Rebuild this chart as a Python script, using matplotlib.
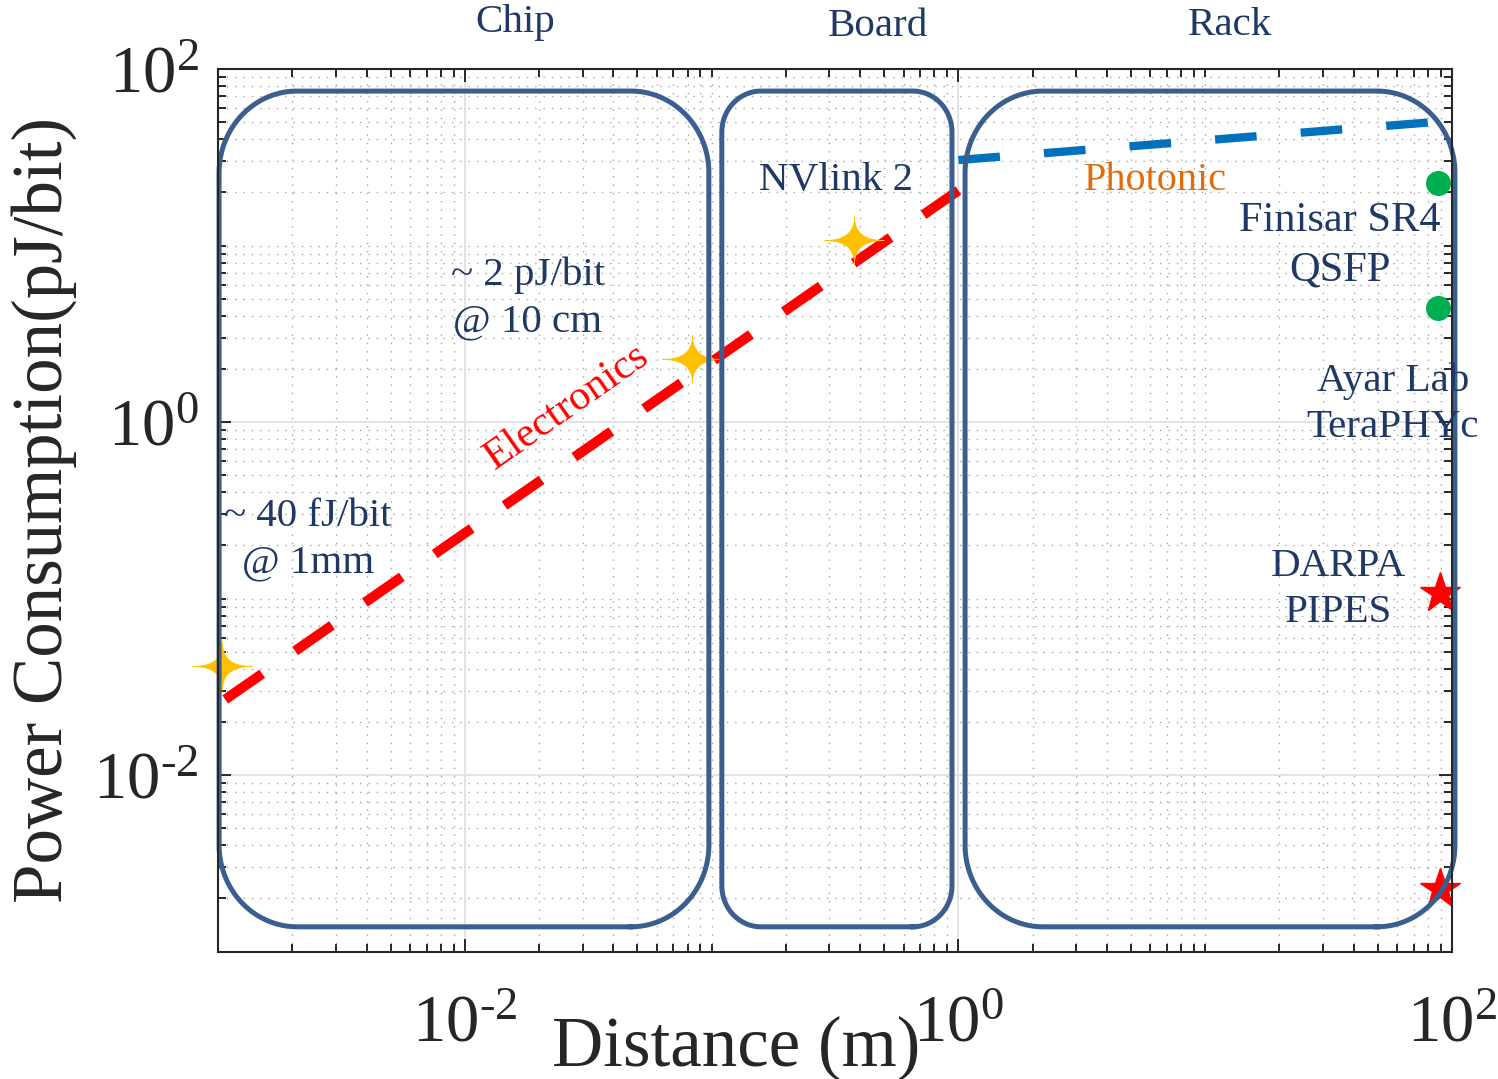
import numpy as np
import matplotlib
matplotlib.use('Agg')
import matplotlib.pyplot as plt
from matplotlib.ticker import FixedLocator, LogLocator, NullFormatter

plt.rcParams['font.family'] = ['Liberation Serif', 'DejaVu Serif']
plt.rcParams['mathtext.fontset'] = 'custom'
plt.rcParams['mathtext.rm'] = 'Liberation Serif'
plt.rcParams['mathtext.it'] = 'Liberation Serif:italic'
plt.rcParams['mathtext.bf'] = 'Liberation Serif:bold'

# ---------------- data ----------------
elec_dist = [1.07e-3, 1.0]
elec_power = [0.0268, 20.5]
phot_dist = [1.0, 100.0]
phot_power = [30.5, 51.0]

bench_dist = [1.04e-3, 0.0834, 0.378]       # ~40 fJ/bit @1mm, ~2 pJ/bit @10cm, NVlink 2
bench_power = [0.0414, 2.27, 10.7]

module_dist = [88.0, 88.0]                  # Finisar SR4 QSFP, Ayar Lab TeraPHYc
module_power = [22.7, 4.4]

darpa_dist = [89.0, 89.0]                   # DARPA PIPES
darpa_power = [0.107, 0.00226]

region_names = ['Chip', 'Board', 'Rack']
region_start = [1.01e-3, 0.110, 1.064]
region_end = [0.0975, 0.942, 102.8]
region_bottom = 1.38e-3
region_top = 75.0

xtick_vals = [1e-2, 1e0, 1e2]
xtick_labels = [r'$10^{\text{-}2}$', '$10^{0}$', '$10^{2}$']
ytick_vals = [1e-2, 1e0, 1e2]
ytick_labels = [r'$10^{\text{-}2}$', '$10^{0}$', '$10^{2}$']

# ---------------- figure ----------------
W, H = 1498, 1079
fig = plt.figure(figsize=(W / 100, H / 100), dpi=100)
ax = fig.add_axes([218 / W, 1 - 951.5 / H, (1452 - 218) / W, (951.5 - 69) / H])
ax.set_xscale('log')
ax.set_yscale('log')
ax.set_xlim(1e-3, 1e2)
ax.set_ylim(1e-3, 1e2)

ink = '#262626'
ax.xaxis.set_major_locator(FixedLocator(xtick_vals))
ax.yaxis.set_major_locator(FixedLocator(ytick_vals))
ax.set_xticklabels(xtick_labels)
ax.set_yticklabels(ytick_labels)
ax.xaxis.set_minor_locator(LogLocator(base=10, subs=np.arange(1, 10), numticks=100))
ax.yaxis.set_minor_locator(LogLocator(base=10, subs=np.arange(1, 10), numticks=100))
ax.xaxis.set_minor_formatter(NullFormatter())
ax.yaxis.set_minor_formatter(NullFormatter())
ax.tick_params(which='both', direction='in', top=True, right=True, color=ink,
               width=1.4, labelcolor=ink, labelsize=48)
ax.tick_params(which='major', length=9.5)
ax.tick_params(which='minor', length=5.5)
ax.tick_params(axis='x', which='major', pad=31)
ax.tick_params(axis='y', which='major', pad=14)
for s in ax.spines.values():
    s.set_linewidth(1.5)
    s.set_color(ink)
    s.set_zorder(6)

ax.grid(True, which='major', color='#e2e2e2', lw=1.3, ls='-', zorder=0)
ax.grid(True, which='minor', color='#a6a6a6', lw=1.0, ls=(0, (1, 5)), zorder=0)
ax.set_axisbelow(True)

# lines
l1, = ax.plot(elec_dist, elec_power, color='#FF0000', lw=7.2,
              dash_capstyle='butt', zorder=3)
l1.set_dashes([4.5, 4.0])
l2, = ax.plot(phot_dist, phot_power, color='#0072BD', lw=6, dash_capstyle='butt', zorder=3)
l2.set_dashes([5.0, 5.3])

# 4-pointed sparkle marker with concave sides (superellipse, exponent < 1)
ang = np.linspace(0, 2 * np.pi, 400, endpoint=False)
pexp = 0.5
sx = np.sign(np.cos(ang)) * np.abs(np.cos(ang)) ** (2 / pexp)
sy = np.sign(np.sin(ang)) * np.abs(np.sin(ang)) ** (2 / pexp)
sparkle = np.column_stack([sx, 0.8 * sy])
ax.plot(bench_dist, bench_power, ls='none', marker=sparkle, ms=43,
        color='#FFC000', mec='#FFC000', mew=0.5, zorder=4, clip_on=False)
ax.plot(module_dist, module_power, ls='none', marker='o', ms=17,
        color='#00B050', mec='#00B050', zorder=4)
ax.plot(darpa_dist, darpa_power, ls='none', marker='*', ms=30,
        color='#FF0000', mec='#FF0000', zorder=4, clip_on=False)

# rounded region boxes (corner radius relative to the shorter side)
box_color = '#3A5F8F'
curvature = 0.34


def rounded_box(x0, x1, y0, y1):
    p0 = ax.transData.transform((x0, y0))
    p1 = ax.transData.transform((x1, y1))
    w = p1[0] - p0[0]
    h = p1[1] - p0[1]
    r = min(curvature * min(w, h) / 2, 78)
    rx, ry = r, r * 1.05
    t = np.linspace(0, np.pi / 2, 40)
    pts = []
    centers = [(p1[0] - rx, p0[1] + ry, -np.pi / 2),
               (p1[0] - rx, p1[1] - ry, 0.0),
               (p0[0] + rx, p1[1] - ry, np.pi / 2),
               (p0[0] + rx, p0[1] + ry, np.pi)]
    for cx, cy, a0 in centers:
        a = a0 + t
        pts.append(np.column_stack([cx + rx * np.cos(a), cy + ry * np.sin(a)]))
    pts = np.vstack(pts + [pts[0][:1]])
    pts_ax = ax.transAxes.inverted().transform(pts)
    ax.plot(pts_ax[:, 0], pts_ax[:, 1], transform=ax.transAxes, color=box_color,
            lw=3.6, clip_on=False, zorder=5, solid_joinstyle='round')


for a, b in zip(region_start, region_end):
    rounded_box(a, b, region_bottom, region_top)

# texts
txt = '#1F3864'
fs = 29.5
ls_ = 1.32
ax.text(0.016, 184, 'Chip', color=txt, fontsize=fs, ha='center', va='center')
ax.text(0.472, 173, 'Board', color=txt, fontsize=fs, ha='center', va='center')
ax.text(12.6, 177, 'Rack', color=txt, fontsize=fs, ha='center', va='center')
ax.text(0.319, 23.2, 'NVlink 2', color=txt, fontsize=fs, ha='center', va='center', zorder=7)
ax.text(0.018, 5.0, '~ 2 pJ/bit\n@ 10 cm', color=txt, fontsize=fs, ha='center',
        va='center', linespacing=ls_, zorder=7)
ax.text(2.32e-3, 0.215, '~ 40 fJ/bit\n@ 1mm', color=txt, fontsize=fs, ha='center',
        va='center', linespacing=ls_, zorder=7)
ax.text(0.026, 1.22, 'Electronics', color='#FF0000', fontsize=30.5, ha='center',
        va='center', rotation=35, zorder=7)
ax.text(6.26, 23.5, 'Photonic', color='#E36C0A', fontsize=29, ha='center', va='center', zorder=7)
ax.text(35.2, 10.0, 'Finisar SR4\nQSFP', color=txt, fontsize=30.5, ha='center',
        va='center', linespacing=1.38, zorder=7)
ax.text(57.7, 1.26, 'Ayar Lab\nTeraPHYc', color=txt, fontsize=fs, ha='center',
        va='center', linespacing=ls_, zorder=7)
ax.text(34.5, 0.113, 'DARPA\nPIPES', color=txt, fontsize=fs, ha='center',
        va='center', linespacing=ls_, zorder=7)

ax.set_xlabel('Distance (m)', fontsize=51, color=ink, va='baseline')
ax.xaxis.set_label_coords(0.42, -0.129)
ax.set_ylabel('Power Consumption(pJ/bit)', fontsize=51, color=ink, va='baseline')
ax.yaxis.set_label_coords(-0.1264, 0.5)

fig.savefig('out.png', dpi=100)
